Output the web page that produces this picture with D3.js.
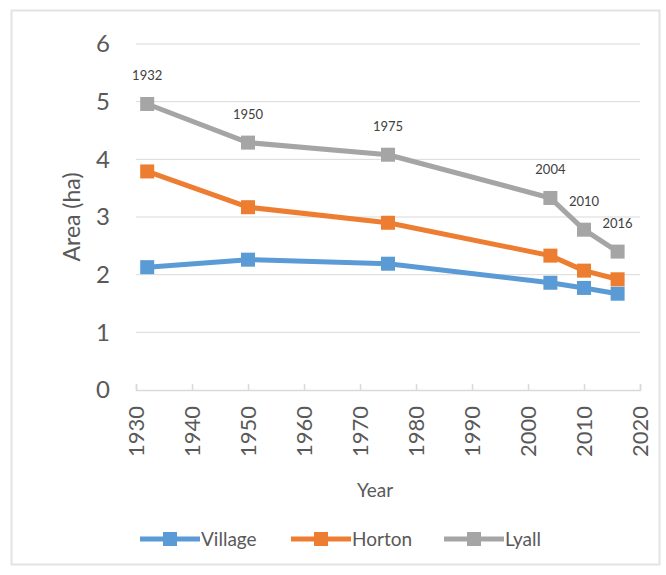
<!DOCTYPE html>
<html>
<head>
<meta charset="utf-8">
<script src="https://cdn.jsdelivr.net/npm/d3@7"></script>
<style>
  html, body { margin: 0; padding: 0; background: #fff; }
  svg { display: block; font-family: Lato, "Open Sans", sans-serif; }
</style>
</head>
<body>
<svg id="chart" width="666" height="575"></svg>
<script>
// Survey years and the area (ha) of each site
const years = [1932, 1950, 1975, 2004, 2010, 2016];
const village = [2.13, 2.26, 2.19, 1.86, 1.77, 1.67];
const horton = [3.79, 3.17, 2.90, 2.33, 2.07, 1.92];
const lyall = [4.96, 4.29, 4.08, 3.33, 2.78, 2.40];
const seriesNames = ["Village", "Horton", "Lyall"];
const seriesColors = ["#5b9bd5", "#ed7d31", "#a5a5a5"];
const xTicks = [1930, 1940, 1950, 1960, 1970, 1980, 1990, 2000, 2010, 2020];
const yTicks = [0, 1, 2, 3, 4, 5, 6];

const series = [village, horton, lyall].map((vals, i) => ({
  name: seriesNames[i],
  color: seriesColors[i],
  points: years.map((yr, j) => ({ year: yr, value: vals[j] }))
}));

const svg = d3.select("#chart");

// Chart frame
svg.append("rect")
  .attr("x", 11.5).attr("y", 10.5)
  .attr("width", 648).attr("height", 554)
  .attr("fill", "#fff").attr("stroke", "#e3e3e3").attr("stroke-width", 2);

const x = d3.scaleLinear().domain([1930, 2020]).range([136, 640]);
const y = d3.scaleLinear().domain([0, 6]).range([390, 44]);

// Horizontal gridlines
svg.append("g").selectAll("line")
  .data(yTicks.filter(t => t > 0))
  .join("line")
  .attr("x1", x(1930)).attr("x2", x(2020))
  .attr("y1", d => y(d)).attr("y2", d => y(d))
  .attr("stroke", "#d9d9d9").attr("stroke-width", 1);

// Y axis labels
const yAxis = svg.append("g")
  .attr("transform", `translate(${x(1930)},0)`)
  .call(d3.axisLeft(y).tickValues(yTicks).tickSize(0).tickPadding(26).tickFormat(d3.format("d")));
yAxis.select(".domain").remove();
yAxis.selectAll("text")
  .attr("font-size", 24).attr("fill", "#595959")
  .attr("font-family", "Lato, 'Open Sans', sans-serif");

// X axis with rotated year labels
const xAxis = svg.append("g")
  .attr("transform", `translate(0,${y(0)})`)
  .call(d3.axisBottom(x).tickValues(xTicks).tickSize(-6).tickFormat(d3.format("d")));
xAxis.select(".domain").attr("stroke", "#d9d9d9").attr("stroke-width", 1.5);
xAxis.selectAll(".tick line").attr("stroke", "#d9d9d9").attr("stroke-width", 1.5);
xAxis.selectAll("text")
  .attr("font-size", 22).attr("fill", "#595959")
  .attr("font-family", "Lato, 'Open Sans', sans-serif")
  .attr("transform", "rotate(-90)")
  .attr("text-anchor", "end")
  .attr("x", -16).attr("y", 0).attr("dy", "0.35em");

// Axis titles
svg.append("text")
  .attr("transform", `translate(80,${y(3)}) rotate(-90)`)
  .attr("text-anchor", "middle")
  .attr("font-size", 23).attr("fill", "#595959")
  .text("Area (ha)");

svg.append("text")
  .attr("x", 375).attr("y", 497)
  .attr("text-anchor", "middle")
  .attr("font-size", 19).attr("fill", "#595959")
  .text("Year");

// Lines and square markers
const line = d3.line().x(d => x(d.year)).y(d => y(d.value));
const g = svg.append("g");
series.forEach(s => {
  g.append("path")
    .datum(s.points)
    .attr("d", line)
    .attr("fill", "none")
    .attr("stroke", s.color)
    .attr("stroke-width", 5)
    .attr("stroke-linejoin", "round");
  g.selectAll(null)
    .data(s.points)
    .join("rect")
    .attr("x", d => x(d.year) - 7)
    .attr("y", d => y(d.value) - 7)
    .attr("width", 14).attr("height", 14)
    .attr("fill", s.color);
});

// Year labels above the Lyall points
svg.append("g").selectAll("text")
  .data(series[2].points)
  .join("text")
  .attr("x", d => x(d.year))
  .attr("y", d => y(d.value) - 24)
  .attr("text-anchor", "middle")
  .attr("font-size", 13).attr("fill", "#404040")
  .text(d => d.year);

// Legend
const legendX = [140, 291, 444];
const legend = svg.append("g").selectAll("g")
  .data(series)
  .join("g")
  .attr("transform", (d, i) => `translate(${legendX[i]},539)`);
legend.append("line")
  .attr("x1", 0).attr("x2", 60).attr("y1", 0).attr("y2", 0)
  .attr("stroke", d => d.color).attr("stroke-width", 5);
legend.append("rect")
  .attr("x", 23).attr("y", -7).attr("width", 14).attr("height", 14)
  .attr("fill", d => d.color);
legend.append("text")
  .attr("x", 61).attr("y", 0).attr("dy", "0.35em")
  .attr("font-size", 19).attr("fill", "#595959")
  .text(d => d.name);
</script>
</body>
</html>
